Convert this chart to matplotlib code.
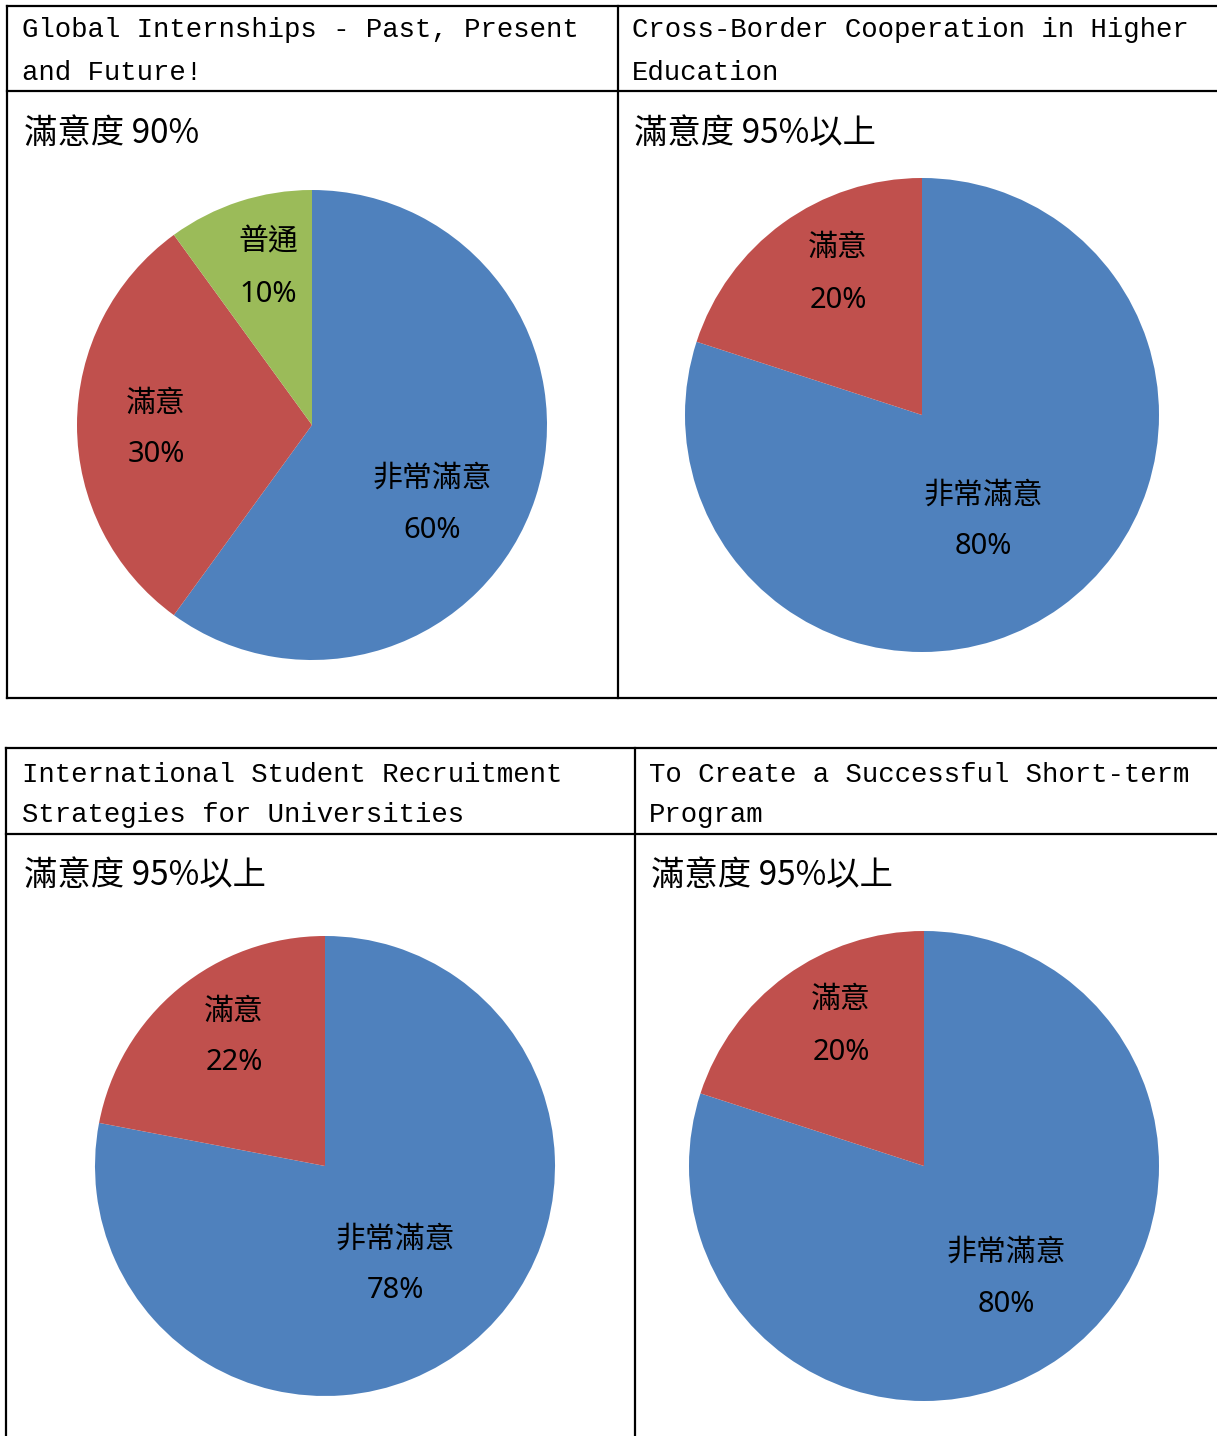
import matplotlib
matplotlib.use("Agg")
import matplotlib.pyplot as plt

# page size in pixels (dpi 100)
W, H = 1217, 1436

# ---- data ----
titles = [
    ["Global Internships - Past, Present", "and Future!"],
    ["Cross-Border Cooperation in Higher", "Education"],
    ["International Student Recruitment", "Strategies for Universities"],
    ["To Create a Successful Short-term", "Program"],
]
headlines = ["滿意度 90%", "滿意度 95%以上", "滿意度 95%以上", "滿意度 95%以上"]

labels_1 = ["非常滿意", "滿意", "普通"]
values_1 = [60, 30, 10]
labels_2 = ["非常滿意", "滿意"]
values_2 = [80, 20]
labels_3 = ["非常滿意", "滿意"]
values_3 = [78, 22]
labels_4 = ["非常滿意", "滿意"]
values_4 = [80, 20]

colors = ["#4F81BD", "#C0504D", "#9BBB59"]

cjk = ["Noto Sans CJK TC", "DejaVu Sans"]
mono = ["Liberation Mono", "DejaVu Sans Mono"]
num = ["Noto Sans", "DejaVu Sans"]

fig = plt.figure(figsize=(W / 100, H / 100), dpi=100)
fig.patch.set_facecolor("white")

# overlay axes in pixel coordinates for the table frame and text
ov = fig.add_axes([0, 0, 1, 1])
ov.set_xlim(0, W)
ov.set_ylim(H, 0)
ov.axis("off")
ov.set_zorder(10)

lw = 1.6
# table 1
ov.plot([7, W + 5], [6, 6], color="black", lw=lw)
ov.plot([7, W + 5], [91, 91], color="black", lw=lw)
ov.plot([7, W + 5], [698, 698], color="black", lw=lw)
ov.plot([7, 7], [6, 698], color="black", lw=lw)
ov.plot([618, 618], [6, 698], color="black", lw=lw)
# table 2
ov.plot([6, W + 5], [748, 748], color="black", lw=lw)
ov.plot([6, W + 5], [834, 834], color="black", lw=lw)
ov.plot([6, 6], [748, H + 5], color="black", lw=lw)
ov.plot([635, 635], [748, H + 5], color="black", lw=lw)

# header texts: (x, baseline line1, baseline line2, headline center)
cells = [(22, 37, 80, 133), (632, 37, 80, 133), (22, 782, 822, 876), (649, 782, 822, 876)]
for (x, b1, b2, hy), t, h in zip(cells, titles, headlines):
    ov.text(x, b1, t[0], family=mono, fontsize=19.7, va="baseline", ha="left")
    ov.text(x, b2, t[1], family=mono, fontsize=19.7, va="baseline", ha="left")
    ov.text(x + 2, hy, h, family=cjk, fontsize=24, va="center", ha="left")


def draw_pie(cx, cy, r, values, labels, label_pos):
    ax = fig.add_axes([(cx - r) / W, 1 - (cy + r) / H, 2 * r / W, 2 * r / H])
    ax.pie(values, startangle=90, counterclock=False,
           colors=colors[:len(values)], radius=1,
           wedgeprops=dict(linewidth=0))
    ax.set_xlim(-1, 1)
    ax.set_ylim(-1, 1)
    ax.axis("off")
    for lab, v, (lx, ly) in zip(labels, values, label_pos):
        ov.text(lx, ly - 23, lab, family=cjk, fontsize=21.5, fontweight="light",
                ha="center", va="center")
        ov.text(lx, ly + 29, f"{v}%", family=num, fontsize=21, fontweight="light",
                ha="center", va="center")


draw_pie(312, 425, 235, values_1, labels_1, [(432, 501), (156, 426), (268, 265)])
draw_pie(922, 415, 237, values_2, labels_2, [(983, 518), (838, 271)])
draw_pie(325, 1166, 230, values_3, labels_3, [(395, 1262), (234, 1034)])
draw_pie(924, 1166, 235, values_4, labels_4, [(1006, 1275), (841, 1023)])

fig.savefig("out.png", dpi=100, facecolor="white")
